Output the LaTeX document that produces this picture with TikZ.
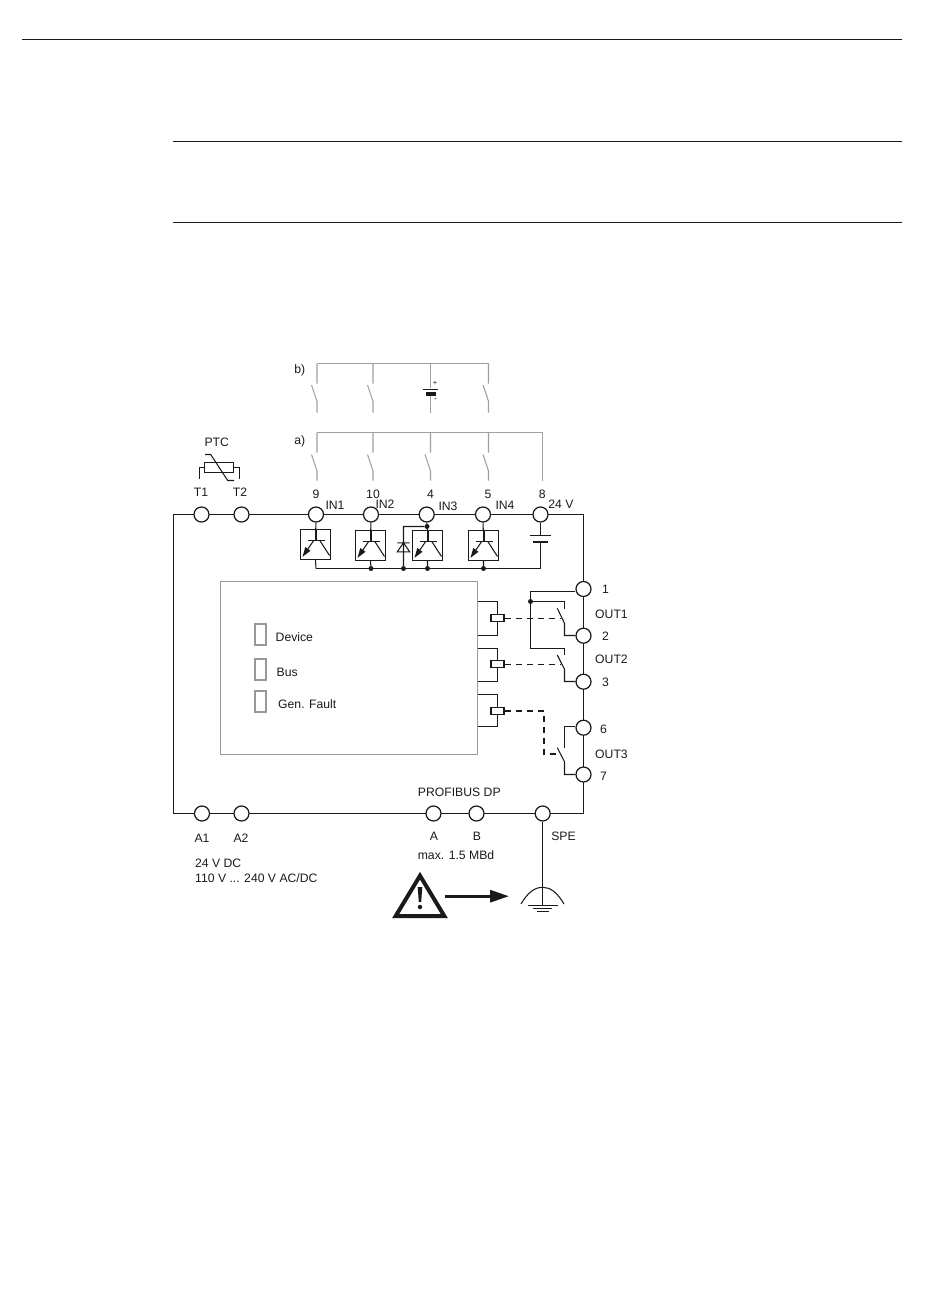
\documentclass[tikz,border=0pt]{standalone}
\usepackage{fontspec}
\setmainfont{Liberation Sans}
\usetikzlibrary{arrows.meta}
\definecolor{lgrey}{HTML}{A0A0A0}
\definecolor{mgrey}{HTML}{999999}
\definecolor{ink}{HTML}{1A1A1A}
\tikzset{
  wire/.style={draw=ink,line width=1.05pt},
  gwire/.style={draw=lgrey,line width=1.1pt},
  rulel/.style={draw=ink,line width=0.8pt},
  term/.style={circle,draw=ink,fill=white,line width=1.25pt,minimum size=15pt,inner sep=0pt},
  lab/.style={font=\fontsize{12.2}{14}\selectfont,text=ink,inner sep=0pt},
  labl/.style={lab,anchor=west},
  iobox/.style={draw=ink,fill=white,line width=1.05pt,minimum size=30pt,inner sep=0pt},
  coil/.style={draw=ink,fill=white,line width=1.05pt,minimum width=13pt,minimum height=7pt,inner sep=0pt},
  led/.style={draw=mgrey,line width=1.9pt,minimum width=11pt,minimum height=21pt,inner sep=0pt},
  junction/.style={circle,fill=ink,minimum size=5pt,inner sep=0pt},
  ctrl/.style={draw=ink,line width=1pt,dash pattern=on 6pt off 5pt},
  ctrlb/.style={draw=ink,line width=1.3pt,dash pattern=on 6pt off 5pt},
  transistor/.pic={
    \draw[wire] (-7.5,-3.7)--(9.5,-3.7) (0.5,-15)--(0.5,-3.7);
    \draw[wire] (4.5,-3.7)--(14,11);
    \draw[wire] (-2,-3.7)--(-8,5);
    \fill[ink] (-13,12.3)--(-10.2,2.5)--(-5,6.3)--cycle;
  },
}
\begin{document}
\begin{tikzpicture}[x=1pt,y=-1pt]
\useasboundingbox (0,0) rectangle (950,1301);
% page rules
\coordinate (r1a) at (22,39); \coordinate (r1b) at (902,39);
\coordinate (r2a) at (173,141); \coordinate (r2b) at (902,141);
\coordinate (r3a) at (173,222); \coordinate (r3b) at (902,222);
\draw[rulel] (r1a)--(r1b) (r2a)--(r2b) (r3a)--(r3b);

% outer frame
\coordinate (tl) at (173.5,514.5); \coordinate (tr) at (583.5,514.5);
\coordinate (bl) at (173.5,813.5); \coordinate (br) at (583.5,813.5);
\draw[wire] (bl)--(tl)--(tr)--(br)--(bl);

% terminals top
\node[term] (T1) at (201.5,514.5) {};
\node[term] (T2) at (241.5,514.5) {};
\node[term] (t9) at (316,514.5) {};
\node[term] (t10) at (371,514.5) {};
\node[term] (t4) at (426.7,514.5) {};
\node[term] (t5) at (483,514.5) {};
\node[term] (t8) at (540.5,514.5) {};
% terminals right
\node[term] (t1) at (583.5,589) {};
\node[term] (t2) at (583.5,635.7) {};
\node[term] (t3) at (583.5,681.7) {};
\node[term] (t6) at (583.5,727.7) {};
\node[term] (t7) at (583.5,774.5) {};
% terminals bottom
\node[term] (A1) at (202,813.5) {};
\node[term] (A2) at (241.5,813.5) {};
\node[term] (tA) at (433.5,813.5) {};
\node[term] (tB) at (476.5,813.5) {};
\node[term] (tS) at (542.7,813.5) {};

% PTC
\node[draw=ink,line width=1.05pt,minimum width=29pt,minimum height=9.6pt,inner sep=0pt] (ptc) at (218.8,467.5) {};
\coordinate (ptcl) at (199.5,478.5); \coordinate (ptcr) at (239.5,478.5);
\draw[wire] (ptc.west)-|(ptcl) (ptc.east)-|(ptcr);
\coordinate (pa) at (205,454.5); \coordinate (pb) at (210.7,454.5);
\coordinate (pc) at (227.7,480.5); \coordinate (pd) at (234,480.5);
\draw[wire] (pa)--(pb)--(pc)--(pd);

% grey switches b)
\coordinate (b1) at (317,363.5); \coordinate (b2) at (373,363.5);
\coordinate (b3) at (430.5,363.5); \coordinate (b4) at (488.5,363.5);
\draw[gwire] (b1)--(b4);
\foreach \n/\x in {1/317,2/373,4/488.5}{
  \coordinate (bu\n) at (\x,383.5);
  \coordinate (bh\n) at (\x-5.5,385);
  \coordinate (bc\n) at (\x,401.5);
  \coordinate (be\n) at (\x,412.5);
  \draw[gwire] (b\n)--(bu\n) (bh\n)--(bc\n)--(be\n);
}
% battery b)
\coordinate (be3) at (430.5,412.5);
\node[minimum width=14.5pt,minimum height=1.3pt,inner sep=0pt,fill=ink] (batA) at (430.5,389.3) {};
\node[minimum width=10pt,minimum height=4pt,inner sep=0pt,fill=ink] (batB) at (430.5,393.8) {};
\draw[gwire] (b3)--(batA.north) (batB.south)--(be3);
\node[lab,font=\fontsize{7.5}{8}\selectfont] (bp) at (435,383.3) {+};
\node[lab,font=\fontsize{8.5}{9}\selectfont] (bm) at (435.5,400.5) {-};

% grey switches a)
\coordinate (a1) at (317,432.5); \coordinate (a2) at (373,432.5);
\coordinate (a3) at (430.5,432.5); \coordinate (a4) at (488.5,432.5);
\coordinate (a5) at (542.5,432.5); \coordinate (ae5) at (542.5,480.7);
\draw[gwire] (a1)--(a5)--(ae5);
\foreach \n/\x in {1/317,2/373,3/430.5,4/488.5}{
  \coordinate (au\n) at (\x,452.7);
  \coordinate (ah\n) at (\x-5.5,454.5);
  \coordinate (ac\n) at (\x,471);
  \coordinate (ae\n) at (\x,480.7);
  \draw[gwire] (a\n)--(au\n) (ah\n)--(ac\n)--(ae\n);
}

% input boxes
\coordinate (railL) at (316,568.5); \coordinate (railR) at (540.5,568.5);
\draw[wire] (railL)--(railR);
\node[iobox] (q1) at (315.5,544.5) {};
\node[iobox] (q2) at (370.5,545.5) {};
\node[iobox] (q3) at (427.5,545.5) {};
\node[iobox] (q4) at (483.5,545.5) {};
\draw[wire] (t9)--(q1) (t10)--(q2) (t5)--(q4);
\draw[wire] (q1.south)--(railL);
\foreach \q in {1,2,3,4}{ \pic at (q\q) {transistor}; }
\node[junction] (j2) at (371,568.5) {};
\node[junction] (j3) at (403.5,568.5) {};
\node[junction] (j4) at (427.5,568.5) {};
\node[junction] (j5) at (483.5,568.5) {};
\draw[wire] (q2.south)--(j2) (q3.south)--(j4) (q4.south)--(j5);
% diode
\node[junction] (jd) at (427,526.5) {};
\coordinate (dt) at (403.5,526.5);
\draw[wire] (t4)--(jd)--(q3.north) (jd)--(dt)--(j3);
\coordinate (da) at (403.5,542.8); \coordinate (db) at (397.3,551.8); \coordinate (dc) at (409.7,551.8);
\coordinate (dd) at (397.3,542.8); \coordinate (de) at (409.7,542.8);
\draw[wire] (da)--(db)--(dc)--cycle (dd)--(de);
% battery 8
\coordinate (c8a) at (540.5,535.5); \coordinate (c8b) at (540.5,541.8);
\coordinate (c8al) at (530,535.5); \coordinate (c8ar) at (551,535.5);
\coordinate (c8bl) at (533.3,541.8); \coordinate (c8br) at (547.5,541.8);
\draw[wire] (t8)--(c8a) (c8al)--(c8ar) (c8b)--(railR);
\draw[draw=ink,line width=2.4pt] (c8bl)--(c8br);

% controller
\node[draw=mgrey,line width=1.2pt,fill=white,minimum width=257.5pt,minimum height=173pt,inner sep=0pt] (ctl) at (349,667.7) {};
\node[led] (ledD) at (260.2,634.2) {};
\node[led] (ledB) at (260.2,669.2) {};
\node[led] (ledG) at (260.2,701.2) {};
\node[labl] (lD) at (275.5,636.7) {Device};
\node[labl] (lB) at (276.5,672.3) {Bus};
\node[labl] (lG) at (278,704) {Gen. Fault};

% relays
\node[coil] (c1) at (497.5,618) {};
\node[coil] (c2) at (497.5,664) {};
\node[coil] (c3) at (497.5,711) {};
\coordinate (c1t) at (477.6,601.5); \coordinate (c1b) at (477.6,635.5);
\coordinate (c2t) at (477.6,648.5); \coordinate (c2b) at (477.6,681.5);
\coordinate (c3t) at (477.6,694.5); \coordinate (c3b) at (477.6,726.5);
\draw[wire] (c1t)-|(c1.north) (c1b)-|(c1.south);
\draw[wire] (c2t)-|(c2.north) (c2b)-|(c2.south);
\draw[wire] (c3t)-|(c3.north) (c3b)-|(c3.south);

% output contacts
\coordinate (o1) at (530.5,591.5);
\node[junction] (jo) at (530.5,601.5) {};
\coordinate (o2c) at (530.5,648.5);
\coordinate (s1a) at (564.5,601.5); \coordinate (s1b) at (564.5,609.3);
\coordinate (s2a) at (564.5,648.5); \coordinate (s2b) at (564.5,655);
\coordinate (s3a) at (564.5,726.5); \coordinate (s3b) at (564.5,748.3);
\draw[wire] (t1.west|-o1)--(o1)--(jo)--(o2c)--(s2a)--(s2b);
\draw[wire] (jo)--(s1a)--(s1b);
\draw[wire] (t6.west|-s3a)--(s3a)--(s3b);
\coordinate (h1) at (557.3,608.3); \coordinate (k1) at (564.5,623.3); \coordinate (m1) at (564.5,635.5);
\coordinate (h2) at (557.3,655); \coordinate (k2) at (564.5,669.3); \coordinate (m2) at (564.5,681.5);
\coordinate (h3) at (557.3,747.7); \coordinate (k3) at (564.5,761.7); \coordinate (m3) at (564.5,774.5);
\draw[wire] (h1)--(k1)--(m1)--(t2.west|-m1);
\draw[wire] (h2)--(k2)--(m2)--(t3.west|-m2);
\draw[wire] (h3)--(k3)--(m3)--(t7.west|-m3);
% mechanical links
\coordinate (d1) at (560,618); \coordinate (d2) at (560,664);
\coordinate (d3a) at (544,711); \coordinate (d3b) at (544,754); \coordinate (d3c) at (557,754);
\draw[ctrl] (c1.east)--(d1);
\draw[ctrl] (c2.east)--(d2);
\draw[ctrlb] (c3.east)--(d3a)--(d3b)--(d3c);

% ground
\coordinate (g0) at (542.7,905);
\draw[wire] (tS)--(g0);
\coordinate (gl) at (521,904); \coordinate (gr) at (564,904);
\draw[wire] (gl) .. controls (528,892) and (535,887.3) .. (542.7,887.3) .. controls (550,887.3) and (557,892) .. (gr);
\coordinate (g1a) at (527.7,905.5); \coordinate (g1b) at (557.7,905.5);
\coordinate (g2a) at (533,908.5); \coordinate (g2b) at (552,908.5);
\coordinate (g3a) at (537,911.5); \coordinate (g3b) at (548.5,911.5);
\draw[wire] (g1a)--(g1b) (g2a)--(g2b) (g3a)--(g3b);

% warning
\coordinate (wa) at (420,875.7); \coordinate (wb) at (395.7,916); \coordinate (wc) at (444.3,916);
\draw[draw=ink,line width=4pt,line join=miter] (wa)--(wb)--(wc)--cycle;
\coordinate (e1) at (417.7,887); \coordinate (e2) at (422.3,887); \coordinate (e3) at (421.2,902); \coordinate (e4) at (418.8,902);
\fill[ink] (e1)--(e2)--(e3)--(e4)--cycle;
\node[circle,fill=ink,minimum size=4.5pt,inner sep=0pt] (edot) at (420,907) {};
\coordinate (aw1) at (445,896.2); \coordinate (aw2) at (509,896.2);
\draw[draw=ink,line width=3pt,-{Triangle[length=19pt,width=12pt]}] (aw1)--(aw2);

% text
\node[lab] (lPTC) at (216.7,442.7) {PTC};
\node[lab] (lT1) at (201,492.7) {T1};
\node[lab] (lT2) at (240,492.7) {T2};
\node[lab] (lb) at (299.8,370.7) {b)};
\node[lab] (la) at (299.8,441.7) {a)};
\node[lab] (l9) at (316,494) {9};
\node[lab] (l10) at (373,494) {10};
\node[lab] (l4) at (430.5,494) {4};
\node[lab] (l5) at (488,494) {5};
\node[lab] (l8) at (542.3,494) {8};
\node[lab] (lIN1) at (335,505.5) {IN1};
\node[lab] (lIN2) at (385,504.5) {IN2};
\node[lab] (lIN3) at (448,506) {IN3};
\node[lab] (lIN4) at (505,505) {IN4};
\node[lab] (l24) at (561,504.5) {24 V};
\node[lab] (l1) at (605.5,589) {1};
\node[lab] (l2) at (605.5,636) {2};
\node[lab] (l3) at (605.5,682) {3};
\node[lab] (l6) at (603.5,729) {6};
\node[lab] (l7) at (603.5,776) {7};
\node[lab] (lO1) at (611.5,614) {OUT1};
\node[lab] (lO2) at (611.5,659) {OUT2};
\node[lab] (lO3) at (611.5,754) {OUT3};
\node[lab] (lPB) at (459.3,792.5) {PROFIBUS DP};
\node[lab] (lA) at (434,836) {A};
\node[lab] (lBb) at (477,836) {B};
\node[lab] (lSPE) at (563.5,836.5) {SPE};
\node[lab] (lMax) at (456,855) {max. 1.5 MBd};
\node[lab] (lA1) at (202,838) {A1};
\node[lab] (lA2) at (241,838) {A2};
\node[labl] (lDC) at (195,863.5) {24 V DC};
\node[labl] (lAC) at (195,878.5) {110 V ... 240 V AC/DC};
\end{tikzpicture}
\end{document}
